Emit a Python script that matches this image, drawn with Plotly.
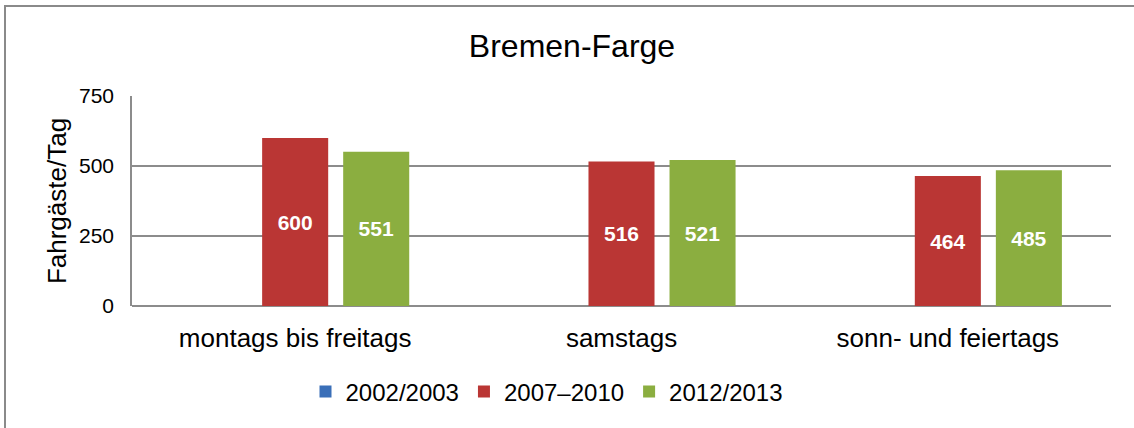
import plotly.graph_objects as go

categories = ["montags bis freitags", "samstags", "sonn- und feiertags"]
series_names = ["2002/2003", "2007–2010", "2012/2013"]
values_2002 = [None, None, None]
values_2007 = [600, 516, 464]
values_2012 = [551, 521, 485]
y_ticks = [0, 250, 500, 750]

colors = ["#3A6FB8", "#BA3634", "#8BAE40"]
FONT = "Liberation Sans, Arial, sans-serif"

W, H = 1134, 428
L, R, T, B = 132, 23, 96, 122
pw = W - L - R
ph = H - T - B


def px_x(p):
    return (p - L) / pw


def px_y(p):
    return (H - B - p) / ph


fig = go.Figure()
for name, vals, col in zip(series_names, [values_2002, values_2007, values_2012], colors):
    fig.add_trace(go.Bar(
        name=name, x=categories, y=vals,
        marker=dict(color=col, line=dict(width=0)),
        text=[("" if v is None else str(v)) for v in vals],
        textposition="inside", insidetextanchor="middle", textangle=0,
        constraintext="none",
        textfont=dict(family=FONT, size=21, color="white", weight="bold"),
        hoverinfo="x+y+name",
    ))

fig.update_layout(
    width=W, height=H,
    margin=dict(l=L, r=R, t=T, b=B, autoexpand=False),
    paper_bgcolor="white", plot_bgcolor="white",
    barmode="group", bargap=0.255, bargroupgap=0.185,
    font=dict(family=FONT, color="#000000"),
    title=dict(text="Bremen-Farge", font=dict(family=FONT, size=32, color="#000"),
               x=572 / W, xanchor="center", xref="container",
               y=1 - 46 / H, yanchor="middle", yref="container"),
    showlegend=True,
    legend=dict(orientation="h", x=px_x(547), xanchor="center",
                y=px_y(392), yanchor="middle",
                font=dict(family=FONT, size=24, color="#000"),
                itemsizing="constant", traceorder="normal"),
    shapes=[dict(type="rect", xref="paper", yref="paper",
                 x0=px_x(5), x1=px_x(1145), y0=px_y(6), y1=px_y(440),
                 line=dict(color="#8A8A8A", width=2), fillcolor="rgba(0,0,0,0)",
                 layer="below")],
)

fig.update_xaxes(
    showgrid=False, showline=False, zeroline=False,
    ticks="", tickfont=dict(family=FONT, size=26, color="#000"),
    ticklabelstandoff=14,
)
fig.update_yaxes(
    range=[0, 750], tickvals=y_ticks, ticktext=[str(v) for v in y_ticks],
    showgrid=True, gridcolor="#8C8C8C", gridwidth=1.5,
    showline=True, linecolor="#8C8C8C", linewidth=1.5,
    zeroline=True, zerolinecolor="#8C8C8C", zerolinewidth=1.5,
    ticks="", tickfont=dict(family=FONT, size=21, color="#000"),
    ticklabelstandoff=12,
    title=dict(text="Fahrgäste/Tag", font=dict(family=FONT, size=26, color="#000"), standoff=5),
)

fig.write_html(
    "out.html",
    config={"displayModeBar": False},
    post_script="document.body.style.margin='0px';document.body.style.padding='0px';",
)
